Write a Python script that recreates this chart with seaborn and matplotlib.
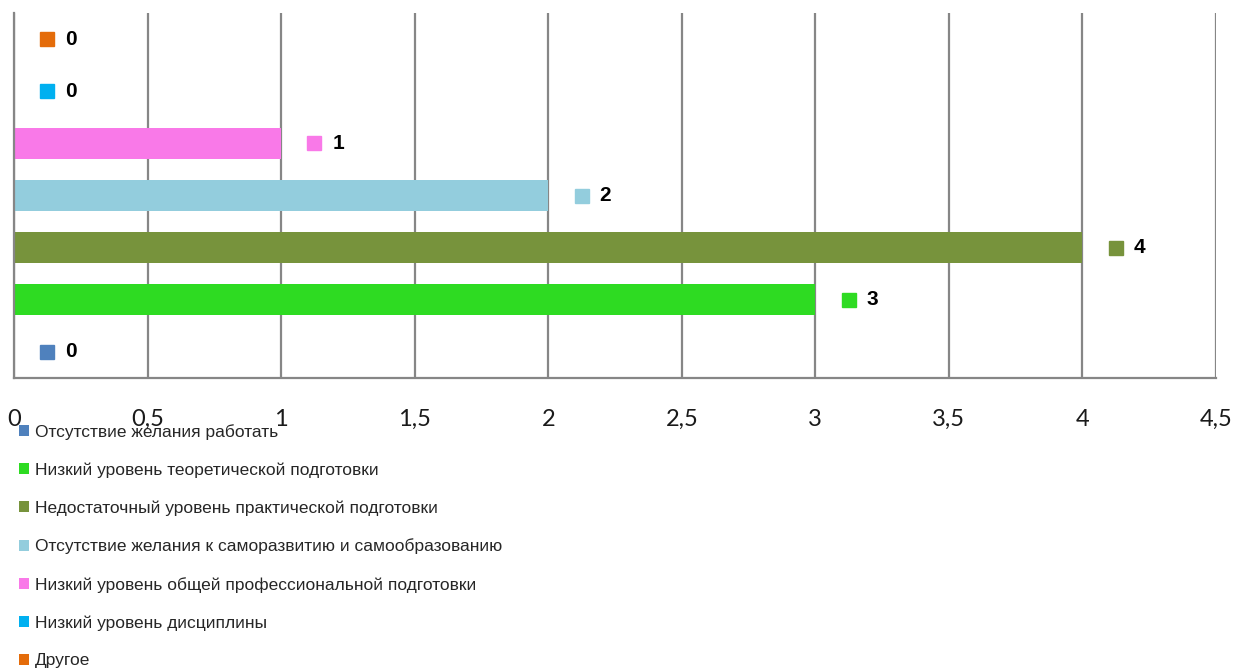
import matplotlib
matplotlib.use("Agg")
import matplotlib.pyplot as plt
from matplotlib.patches import Patch
from matplotlib.transforms import ScaledTranslation
import seaborn as sns
import pandas as pd

# Reasons, listed in series order (legend order, bottom bar first)
reasons = [
    "Отсутствие желания работать",
    "Низкий уровень теоретической подготовки",
    "Недостаточный уровень практической подготовки",
    "Отсутствие желания к саморазвитию и самообразованию",
    "Низкий уровень общей профессиональной подготовки",
    "Низкий уровень дисциплины",
    "Другое",
]
counts = [0, 3, 4, 2, 1, 0, 0]
colors = ["#4F81BD", "#2EDB22", "#77933C", "#93CDDD", "#F979E8", "#00B0F0", "#E46C0A"]
x_ticks = [0, 0.5, 1, 1.5, 2, 2.5, 3, 3.5, 4, 4.5]
x_tick_labels = ["0", "0,5", "1", "1,5", "2", "2,5", "3", "3,5", "4", "4,5"]

narrow = ["Liberation Sans Narrow", "Liberation Sans", "DejaVu Sans"]

sns.set_theme(style="white")
plt.rcParams["font.family"] = narrow

df = pd.DataFrame({"reason": reasons, "count": counts})
order = reasons[::-1]  # top of chart shows the last series
palette = dict(zip(reasons, colors))

fig = plt.figure(figsize=(12.37, 6.68), dpi=100)
ax = fig.add_axes([14 / 1237, 1 - 378 / 668, (1216 - 14) / 1237, (378 - 13) / 668])

sns.barplot(data=df, y="reason", x="count", hue="reason", order=order,
            hue_order=order, palette=palette, orient="h", dodge=False,
            width=0.6, saturation=1, legend=False, linewidth=0, ax=ax)

ax.set_xlim(0, 4.5)
ax.set_ylim(6.5, -0.5)
ax.set_xticks(x_ticks)
ax.set_xticklabels(x_tick_labels, family=["Lato", "DejaVu Sans"], fontsize=17, color="#1a1a1a")
ax.tick_params(axis="x", length=0, pad=22)
ax.set_yticks([])
ax.set_xlabel("")
ax.set_ylabel("")

ax.grid(axis="x", color="#868686", linewidth=1.6)
ax.set_axisbelow(True)
for side in ("top", "right"):
    ax.spines[side].set_visible(False)
for side in ("left", "bottom"):
    ax.spines[side].set_color("#868686")
    ax.spines[side].set_linewidth(1.6)

# Value labels: a small colour square followed by the value in bold
square_shift = ScaledTranslation(24 / 72, 0, fig.dpi_scale_trans)
for i, name in enumerate(order):
    v = counts[reasons.index(name)]
    ax.plot([v], [i], marker="s", markersize=10, color=palette[name],
            linestyle="none", clip_on=False, transform=ax.transData + square_shift)
    ax.annotate(str(v), xy=(v, i), xytext=(37, 0), textcoords="offset points",
                ha="left", va="center", fontsize=15, fontweight="bold",
                color="#000000", family=narrow)

handles = [Patch(facecolor=c, edgecolor="none") for c in colors]
fig.legend(handles, reasons, loc="upper left", bbox_to_anchor=(19 / 1237, 1 - 424 / 668),
           frameon=False, handlelength=0.6, handleheight=0.6,
           handletextpad=0.3, labelspacing=1.3, borderaxespad=0, borderpad=0,
           prop={"family": narrow, "size": 12.5})

fig.savefig("out.png", dpi=100)
